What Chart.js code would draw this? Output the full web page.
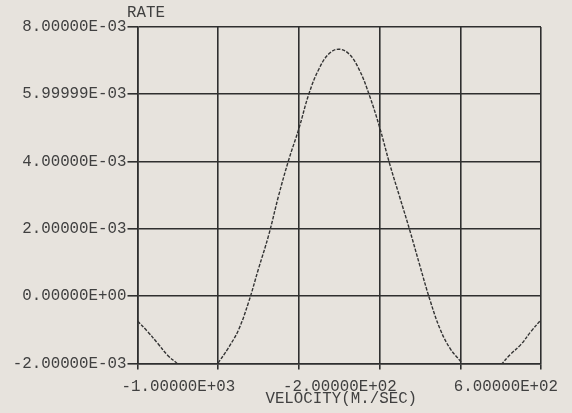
<!DOCTYPE html>
<html>
<head>
<meta charset="utf-8">
<script src="https://cdn.jsdelivr.net/npm/chart.js@4"></script>
<style>
html,body{margin:0;padding:0;background:#e7e3dd;}
#wrap{width:572px;height:413px;position:relative;}
</style>
</head>
<body>
<div id="wrap"><canvas id="c"></canvas></div>
<script>
// Velocity (m/s) sample points
const velocities = [-1000,-950,-900,-850,-800,-750,-700,-650,-600,-550,-500,-450,-400,-350,-300,-250,-200,-150,-100,-50,0,50,100,150,200,250,300,350,400,450,500,550,600,650,700,750,800,850,900,950,1000];
// Rate values
const rates = [-0.74e-3,-1.05e-3,-1.40e-3,-1.76e-3,-2.02e-3,-2.35e-3,-2.55e-3,-2.40e-3,-1.98e-3,-1.54e-3,-1.01e-3,-0.19e-3,0.82e-3,1.81e-3,3.00e-3,4.06e-3,4.98e-3,6.02e-3,6.76e-3,7.21e-3,7.34e-3,7.19e-3,6.72e-3,5.96e-3,5.02e-3,3.93e-3,2.94e-3,1.95e-3,0.90e-3,-0.12e-3,-0.98e-3,-1.56e-3,-1.93e-3,-2.35e-3,-2.55e-3,-2.40e-3,-2.05e-3,-1.72e-3,-1.44e-3,-1.05e-3,-0.70e-3];
// Tick labels
const xTickLabels = ["-1.00000E+03","","-2.00000E+02",""," 6.00000E+02",""];
const yTickLabels = ["-2.00000E-03","0.00000E+00","2.00000E-03","4.00000E-03","5.99999E-03","8.00000E-03"];
const xTitle = "VELOCITY(M./SEC)";
const yTitle = "RATE";

const FONT = 'Liberation Mono';
const FS = 15.8;
const INK = '#2f2f2f';
const TXT = '#404040';

const titles = {
  id: 'titles',
  afterDraw(chart) {
    const ctx = chart.ctx, ca = chart.chartArea;
    ctx.save();
    ctx.font = FS + 'px "' + FONT + '"';
    ctx.fillStyle = TXT;
    ctx.textBaseline = 'middle';
    ctx.textAlign = 'left';
    ctx.fillText(yTitle, ca.left - 10.5, 12.5);
    ctx.textAlign = 'center';
    ctx.fillText(xTitle, (ca.left + ca.right) / 2 + 2, 399);
    ctx.restore();
  }
};

new Chart(document.getElementById('c'), {
  type: 'line',
  data: {
    datasets: [{
      data: velocities.map((v, i) => ({x: v, y: rates[i]})),
      borderColor: '#333',
      borderWidth: 1.4,
      borderDash: [3.5, 1.5],
      pointRadius: 0,
      tension: 0.4,
      fill: false
    }]
  },
  options: {
    responsive: true,
    maintainAspectRatio: false,
    animation: false,
    layout: {padding: {left: 0, top: 27, right: 31, bottom: 0}},
    plugins: {legend: {display: false}, tooltip: {enabled: false}},
    scales: {
      x: {
        type: 'linear', min: -1000, max: 1000,
        afterFit(s) { s.height = 49.5; },
        ticks: {
          stepSize: 400, align: 'start', labelOffset: -16, padding: 8, maxRotation: 0, autoSkip: false,
          color: TXT, font: {family: FONT, size: FS},
          callback: (v, i) => xTickLabels[i]
        },
        grid: {color: INK, lineWidth: 1.6, tickLength: 6, drawTicks: true},
        border: {display: true, color: INK, width: 1.6}
      },
      y: {
        type: 'linear', min: -0.002, max: 0.008,
        afterFit(s) { s.width = 137.5; },
        ticks: {
          stepSize: 0.002, padding: 1, autoSkip: false,
          color: TXT, font: {family: FONT, size: FS},
          callback: (v, i) => yTickLabels[i]
        },
        grid: {color: INK, lineWidth: 1.6, tickLength: 10, drawTicks: true},
        border: {display: true, color: INK, width: 1.6}
      }
    }
  },
  plugins: [titles]
});
</script>
</body>
</html>
